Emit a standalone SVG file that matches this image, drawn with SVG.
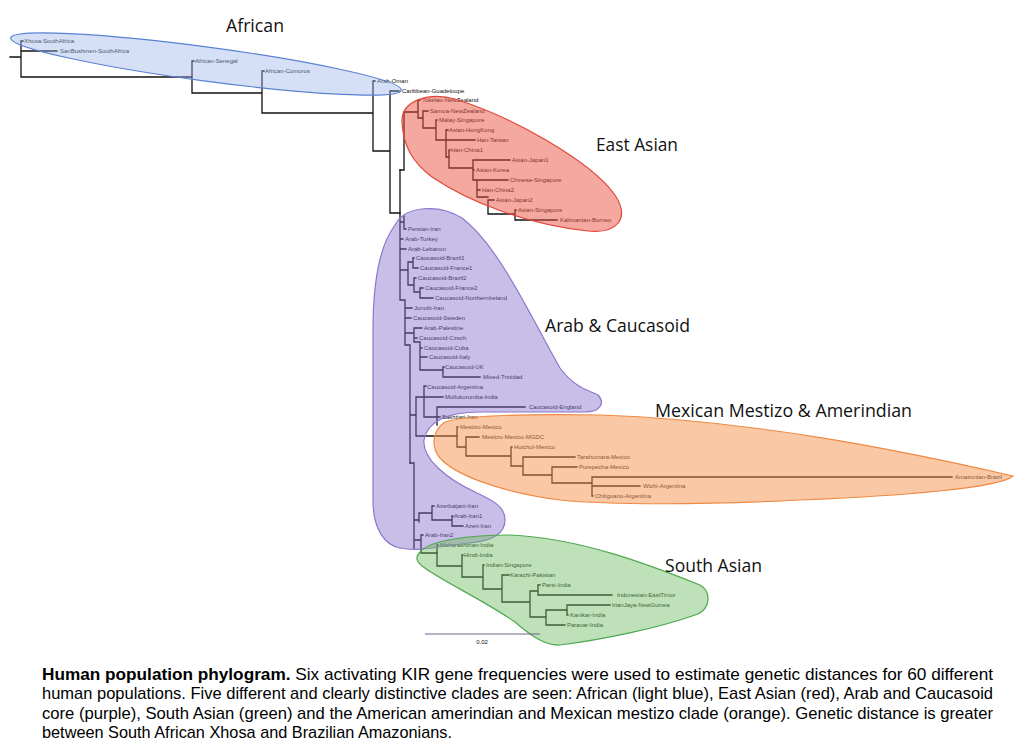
<svg xmlns="http://www.w3.org/2000/svg" width="1024" height="747" viewBox="0 0 1024 747">
<style>
.t{font-family:"Liberation Sans",Arial,sans-serif;font-size:6px;fill:#111}
.ttl{font-family:"Open Sans","Lato",sans-serif;font-size:18.5px;fill:#111}
.cap{font-family:"Liberation Sans",Arial,sans-serif;font-size:17px;fill:#000}
.br{fill:none;stroke:#111;stroke-width:1.3;stroke-linecap:square}
</style>
<rect width="1024" height="747" fill="#fff"/>
<g id="connectors">
<path class="br" d="M10,57H21M21,41V77M21,41H23M21,51H57M21,77H192M192,61V93M192,61H194M192,93H262M262,71V113M262,71H264M262,113H373M373,81V151M373,81H375M373,151H390M390,91V213M390,91H399M390,213H400"/>
<path class="br" d="M400,170H404M404,112V170M404,112H418M418,100V118M418,100H420M418,118H423M423,111V128M423,111H428M423,128H436M436,120V140M436,120H437M436,140H475M446,130V157M446,130H448M446,157H449M449,150V168M449,150H450M449,168H473M473,160V180M473,160H510M473,170H474M473,180H508M477,180V197M477,190H480M477,197H488M488,200V214M488,200H494M488,214H515M515,210V220M515,210H516M515,220H557"/>
<path class="br" d="M400,170V300M400,222H404M404,216V229M404,229H406M400,239H403M400,249H406M400,270H408M408,262V285M408,262H413M413,258V268M413,258H414M413,268H418M408,285H414M414,278V292M414,278H416M414,292H420M420,288V298M420,288H423M420,298H433M400,300H405M405,300V345M405,308H412M405,318H411M405,333H414M414,328V342M414,328H422M414,338H417M414,342H420M420,342V370M420,348H422M420,357H427M420,370H443M443,367V377M443,367H444M443,377H480M405,345H410M410,345V463M410,415H416M416,397V436M416,397H443M424,386V417M424,386H426M424,417H437M437,407V425M437,407H525M437,417H440M416,436H457"/>
<path class="br" d="M457,427V447M457,427H458M457,447H466M466,437V456M466,437H479M466,456H511M511,447V466M511,447H512M511,466H523M523,457V475M523,457H575M523,475H552M552,467V483M552,467H577M552,483H592M592,477V496M592,477H952M592,486H640M592,496H593"/>
<path class="br" d="M410,463H414M414,463V548M414,520H419M419,513V522M419,513H432M432,506V520M432,506H434M432,520H452M452,516V526M452,516H453M452,526H463M414,540H421M421,535V553M421,535H423M421,553H437"/>
<path class="br" d="M437,545V566M437,545H438M437,566H462M462,555V577M462,555H463M462,577H483M483,565V589M483,565H484M483,589H502M502,575V602M502,575H509M502,602H530M530,591V617M530,591H538M538,585V595M538,585H540M538,595H612M530,617H546M546,610V625M546,610H567M567,605V615M567,605H610M567,615H568M546,625H565"/>
</g>
<g id="leaves" class="t">
<text x="24" y="43">Xhosa-SouthAfrica</text>
<text x="60" y="53">SanBushmen-SouthAfrica</text>
<text x="195" y="63">African-Senegal</text>
<text x="265" y="73">African-Comoros</text>
<text x="377" y="83">Arab-Oman</text>
<text x="402" y="93">Caribbean-Guadeloupe</text>
<text x="422" y="102">Tokelau-NewZealand</text>
<text x="430" y="113">Samoa-NewZealand</text>
<text x="439" y="122">Malay-Singapore</text>
<text x="449" y="132">Asian-HongKong</text>
<text x="477" y="142">Han-Taiwan</text>
<text x="451" y="152">Han-China1</text>
<text x="512" y="162">Asian-Japan1</text>
<text x="476" y="172">Asian-Korea</text>
<text x="510" y="182">Chinese-Singapore</text>
<text x="482" y="192">Han-China2</text>
<text x="496" y="202">Asian-Japan2</text>
<text x="518" y="212">Asian-Singapore</text>
<text x="560" y="222">Kalimantan-Borneo</text>
<text x="408" y="231">Persian-Iran</text>
<text x="405" y="241">Arab-Turkey</text>
<text x="408" y="251">Arab-Lebanon</text>
<text x="416" y="260">Caucasoid-Brazil1</text>
<text x="420" y="270">Caucasoid-France1</text>
<text x="418" y="280">Caucasoid-Brazil2</text>
<text x="425" y="290">Caucasoid-France2</text>
<text x="435" y="300">Caucasoid-NorthernIreland</text>
<text x="414" y="310">Jonobi-Iran</text>
<text x="413" y="320">Caucasoid-Sweden</text>
<text x="424" y="330">Arab-Palestine</text>
<text x="419" y="340">Caucasoid-Czech</text>
<text x="424" y="350">Caucasoid-Cuba</text>
<text x="429" y="359">Caucasoid-Italy</text>
<text x="445" y="369">Caucasoid-UK</text>
<text x="483" y="379">Mixed-Trinidad</text>
<text x="427" y="389">Caucasoid-Argentina</text>
<text x="445" y="399">Mollukurumba-India</text>
<text x="529" y="409">Caucasoid-England</text>
<text x="442" y="419">Bakhtiari-Iran</text>
<text x="460" y="429">Mestizo-Mexico</text>
<text x="482" y="439">Mestizo-Mexico-MGDC</text>
<text x="514" y="449">Huichol-Mexico</text>
<text x="577" y="459">Tarahumara-Mexico</text>
<text x="579" y="469">Purepecha-Mexico</text>
<text x="955" y="479">Amazonian-Brazil</text>
<text x="643" y="488">Wichi-Argentina</text>
<text x="595" y="498">Chiliguano-Argentina</text>
<text x="436" y="508">Azerbaijani-Iran</text>
<text x="454" y="518">Arab-Iran1</text>
<text x="465" y="528">Azeri-Iran</text>
<text x="425" y="537">Arab-Iran2</text>
<text x="440" y="547">Maharashtrian-India</text>
<text x="464" y="557">Hindi-India</text>
<text x="486" y="567">Indian-Singapore</text>
<text x="510" y="577">Karachi-Pakistan</text>
<text x="542" y="587">Parsi-India</text>
<text x="617" y="597">Indonesian-EastTimor</text>
<text x="612" y="607">IrianJaya-NewGuinea</text>
<text x="570" y="617">Kanikar-India</text>
<text x="567" y="627">Paravar-India</text>
</g>
<g id="clade-african">
<ellipse cx="206" cy="64" rx="197" ry="17" transform="rotate(7.6 206 64)" fill="#96b1e8" fill-opacity="0.4" stroke="#5a80d2" stroke-width="1.2"/>
<text class="ttl" x="226" y="32" textLength="58" lengthAdjust="spacingAndGlyphs">African</text>
</g>
<g id="clade-eastasian">
<path d="M402,122C401,100 430,92 455,99C510,116 590,160 615,195C630,218 618,234 588,231C530,225 470,203 432,177C412,162 403,145 402,122Z" fill="#e95141" fill-opacity="0.5" stroke="#e0483a" stroke-width="1.2"/>
<text class="ttl" x="596" y="151" textLength="82" lengthAdjust="spacingAndGlyphs">East Asian</text>
</g>
<g id="clade-arab">
<path d="M395,225C405,205 440,204 462,218C498,245 530,315 560,368C575,388 588,390 598,395C606,404 599,412 585,412L480,412C450,412 428,420 424,440C422,458 445,478 475,492C492,500 505,506 505,520C505,535 490,541 470,543C440,546 420,552 400,548C385,545 373,530 373,500L373,330C373,280 380,245 395,225Z" fill="#856fcc" fill-opacity="0.45" stroke="#8a78cc" stroke-width="1.2"/>
<text class="ttl" x="545" y="332" textLength="145" lengthAdjust="spacingAndGlyphs">Arab &amp; Caucasoid</text>
</g>
<g id="clade-mexican">
<path d="M445,422C470,414 540,414 600,415C750,420 900,450 1013,476C1000,488 900,496 800,500C700,505 610,505 560,500C500,492 455,475 440,458C430,446 433,430 445,422Z" fill="#f5914b" fill-opacity="0.5" stroke="#ee8a45" stroke-width="1.2"/>
<text class="ttl" x="655" y="417" textLength="257" lengthAdjust="spacingAndGlyphs">Mexican Mestizo &amp; Amerindian</text>
</g>
<g id="clade-southasian">
<path d="M420,552C430,540 470,535 510,535C580,538 650,565 700,585C712,592 710,608 698,614C660,628 600,640 560,645C545,646 530,635 515,622C480,598 440,580 422,566C415,560 416,556 420,552Z" fill="#6fbd64" fill-opacity="0.45" stroke="#4fa84f" stroke-width="1.2"/>
<text class="ttl" x="665" y="572" textLength="97" lengthAdjust="spacingAndGlyphs">South Asian</text>
</g>
<g id="scale">
<line x1="425" y1="634" x2="540" y2="634" stroke="#6d6690" stroke-width="1.2"/>
<text class="t" x="482" y="644" text-anchor="middle">0.02</text>
</g>
<g id="caption" class="cap">
<text x="42" y="680" textLength="951" lengthAdjust="spacingAndGlyphs"><tspan font-weight="bold">Human population phylogram.</tspan> Six activating KIR gene frequencies were used to estimate genetic distances for 60 different</text>
<text x="42" y="699" textLength="951" lengthAdjust="spacingAndGlyphs">human populations. Five different and clearly distinctive clades are seen: African (light blue), East Asian (red), Arab and Caucasoid</text>
<text x="42" y="719" textLength="951" lengthAdjust="spacingAndGlyphs">core (purple), South Asian (green) and the American amerindian and Mexican mestizo clade (orange). Genetic distance is greater</text>
<text x="42" y="738" textLength="410" lengthAdjust="spacingAndGlyphs">between South African Xhosa and Brazilian Amazonians.</text>
</g>
</svg>
